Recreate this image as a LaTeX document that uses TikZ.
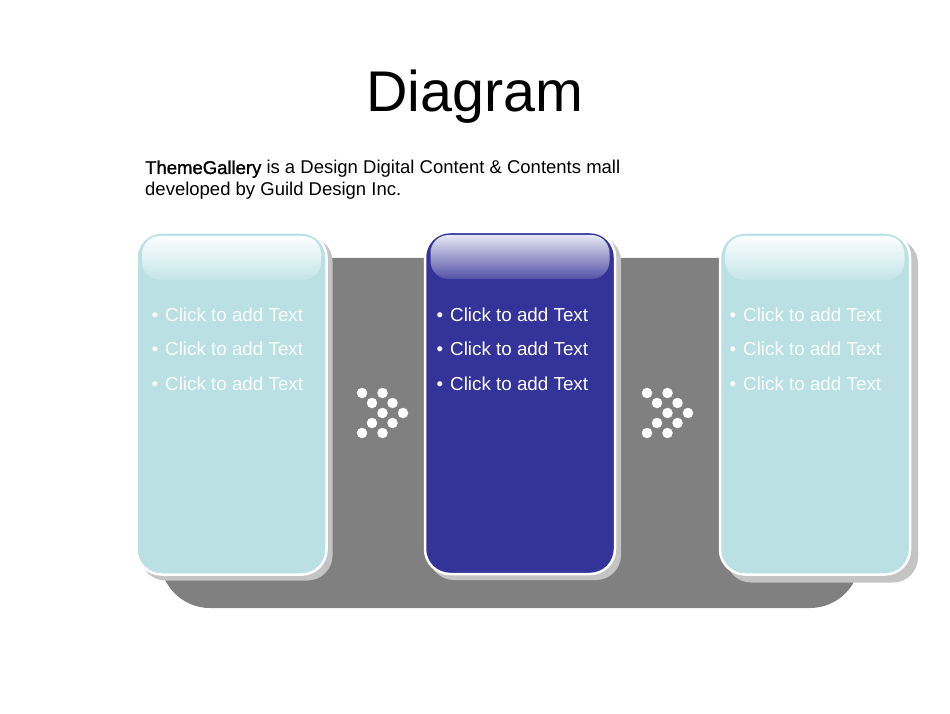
\documentclass[tikz,border=0pt]{standalone}
\usepackage{fontspec}
\setmainfont{Liberation Sans}
\newfontfamily\fakeboldfont[FakeBold=1.2]{Liberation Sans}
\definecolor{bandgray}{HTML}{808080}
\definecolor{lightcard}{HTML}{BAE0E4}
\definecolor{darkcard}{HTML}{333399}
\definecolor{shadowgray}{HTML}{C4C4C4}
\tikzset{
  cardbox/.style={rectangle, rounded corners=25pt, minimum width=190pt, minimum height=342pt, draw=white, line width=2.5pt, inner sep=0pt},
  cardshadow/.style={rectangle, rounded corners=25pt, minimum width=192pt, minimum height=344pt, fill=shadowgray, inner sep=0pt},
  glossbox/.style={rectangle, rounded corners=18pt, minimum width=179pt, minimum height=44pt, inner sep=0pt},
  itemtext/.style={anchor=base west, inner sep=0pt, font=\fontsize{18.8}{22}\selectfont},
  dot/.style={circle, fill=white, minimum size=10.5pt, inner sep=0pt}
}
\begin{document}
\begin{tikzpicture}[x=1pt,y=1pt]
\useasboundingbox (0,0) rectangle (950,713);
\fill[white] (0,0) rectangle (950,713);
% title
\node[anchor=base, inner sep=0pt, font=\fontsize{57.4}{60}\selectfont] (title) at (474.5,601) {Diagram};
\node[anchor=base west, inner sep=0pt, font=\fontsize{18.5}{22}\selectfont] (sub1) at (145,539) {{\fakeboldfont ThemeGallery} is a Design Digital Content \& Contents mall};
\node[anchor=base west, inner sep=0pt, font=\fontsize{18.5}{22}\selectfont] (sub2) at (145,517) {developed by Guild Design Inc.};
% gray band
\fill[bandgray] (160,455) -- (860,455) -- (860,155) arc[start angle=0,end angle=-90,radius=50] -- (210,105) arc[start angle=270,end angle=180,radius=50] -- cycle;
% shadows
\node[cardshadow] (sh1) at (236.5,304.5) {};
\node[cardshadow] (sh2) at (525,305) {};
\node[cardshadow] (sh3) at (822,302.5) {};
% cards
\node[cardbox, fill=lightcard] (c1) at (231.5,309.5) {};
\node[cardbox, fill=darkcard] (c2) at (520,310) {};
\node[cardbox, fill=lightcard] (c3) at (815,309.5) {};
% gloss
\node[glossbox, top color=white!95!lightcard, bottom color=lightcard!85!white] (g1) at (231.5,455) {};
\node[glossbox, top color=white!88!darkcard, bottom color=darkcard!85!white] (g2) at (520,456) {};
\node[glossbox, top color=white!95!lightcard, bottom color=lightcard!85!white] (g3) at (815,455) {};
% texts
\foreach \yy [count=\i] in {391,357,323}{
  \node[itemtext, text=white!90!lightcard] (ba\i) at (151.5,\yy) {\textbullet};
  \node[itemtext, text=white!90!lightcard] (ta\i) at (165,\yy) {Click to add Text};
  \node[itemtext, text=white] (bb\i) at (436.5,\yy) {\textbullet};
  \node[itemtext, text=white] (tb\i) at (450,\yy) {Click to add Text};
  \node[itemtext, text=white!90!lightcard] (bc\i) at (729.5,\yy) {\textbullet};
  \node[itemtext, text=white!90!lightcard] (tc\i) at (743,\yy) {Click to add Text};
}
% dot arrows
\foreach \bx/\nm in {362/l, 647/r}{
  \foreach \dx/\dy [count=\k] in {0/20,20.5/20,10/10,30.5/10,20.5/0,41/0,10/-10,30.5/-10,0/-20,20.5/-20}{
    \node[dot] (d\nm\k) at (\bx+\dx,300+\dy) {};
  }
}
\end{tikzpicture}
\end{document}
